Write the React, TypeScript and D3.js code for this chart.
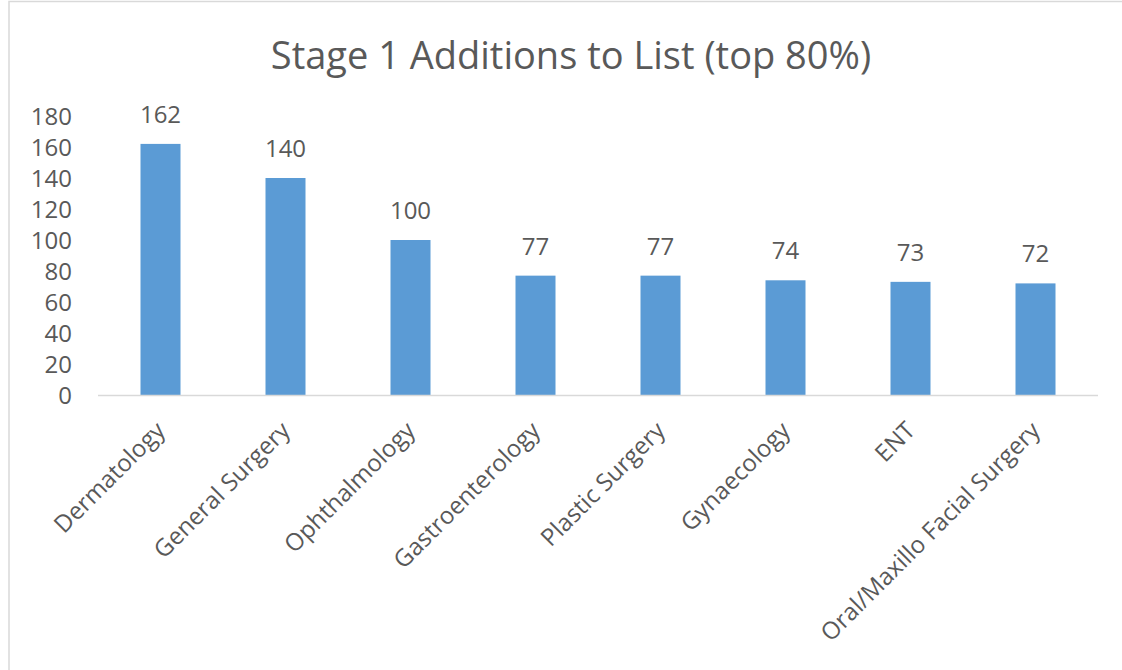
import React, { useEffect, useRef } from "react";
import * as d3 from "d3";

const categories = [
  "Dermatology",
  "General Surgery",
  "Ophthalmology",
  "Gastroenterology",
  "Plastic Surgery",
  "Gynaecology",
  "ENT",
  "Oral/Maxillo Facial Surgery",
];
const values = [162, 140, 100, 77, 77, 74, 73, 72];
const yTicks = [0, 20, 40, 60, 80, 100, 120, 140, 160, 180];
const title = "Stage 1 Additions to List (top 80%)";

const W = 1122;
const H = 670;
const FONT = "'Open Sans', 'Noto Sans', sans-serif";
const TEXT = "#595959";

export default function App() {
  const ref = useRef<SVGSVGElement>(null);

  useEffect(() => {
    const svg = d3.select(ref.current);
    svg.selectAll("*").remove();

    const x = d3
      .scaleBand<string>()
      .domain(categories)
      .range([98, 1098])
      .paddingInner(0.68)
      .paddingOuter(0.34);
    const y = d3.scaleLinear().domain([0, 180]).range([395, 116]);

    svg.append("rect").attr("x", 0).attr("y", 0).attr("width", W).attr("height", H).attr("fill", "#fff");
    svg
      .append("rect")
      .attr("x", 9)
      .attr("y", 1.5)
      .attr("width", W + 20)
      .attr("height", H + 20)
      .attr("fill", "none")
      .attr("stroke", "#d9d9d9")
      .attr("stroke-width", 1.5);

    svg
      .append("text")
      .attr("x", 571)
      .attr("y", 69)
      .attr("text-anchor", "middle")
      .attr("font-family", FONT)
      .attr("font-size", 38)
      .attr("fill", TEXT)
      .text(title);

    // y tick labels
    svg
      .append("g")
      .selectAll("text")
      .data(yTicks)
      .join("text")
      .attr("x", 72)
      .attr("y", (d) => y(d))
      .attr("dy", "0.36em")
      .attr("text-anchor", "end")
      .attr("font-family", FONT)
      .attr("font-size", 24)
      .attr("fill", TEXT)
      .text((d) => String(d));

    // bars
    svg
      .append("g")
      .selectAll("rect")
      .data(values)
      .join("rect")
      .attr("x", (_, i) => x(categories[i])!)
      .attr("y", (d) => y(d))
      .attr("width", x.bandwidth())
      .attr("height", (d) => y(0) - y(d))
      .attr("fill", "#5b9bd5");

    // axis line
    svg
      .append("line")
      .attr("x1", 98)
      .attr("x2", 1098)
      .attr("y1", y(0) + 0.5)
      .attr("y2", y(0) + 0.5)
      .attr("stroke", "#d9d9d9")
      .attr("stroke-width", 1.5);

    // data labels
    svg
      .append("g")
      .selectAll("text")
      .data(values)
      .join("text")
      .attr("x", (_, i) => x(categories[i])! + x.bandwidth() / 2)
      .attr("y", (d) => y(d) - 21)
      .attr("text-anchor", "middle")
      .attr("font-family", FONT)
      .attr("font-size", 24)
      .attr("fill", TEXT)
      .text((d) => String(d));

    // category labels
    svg
      .append("g")
      .selectAll("text")
      .data(categories)
      .join("text")
      .attr(
        "transform",
        (d) => `translate(${x(d)! + x.bandwidth() / 2 + 6},${432}) rotate(-45)`
      )
      .attr("text-anchor", "end")
      .attr("font-family", FONT)
      .attr("font-size", 24)
      .attr("fill", TEXT)
      .text((d) => d);
  }, []);

  return (
    <svg
      ref={ref}
      width={W}
      height={H}
      style={{ position: "absolute", left: 0, top: 0 }}
    />
  );
}
